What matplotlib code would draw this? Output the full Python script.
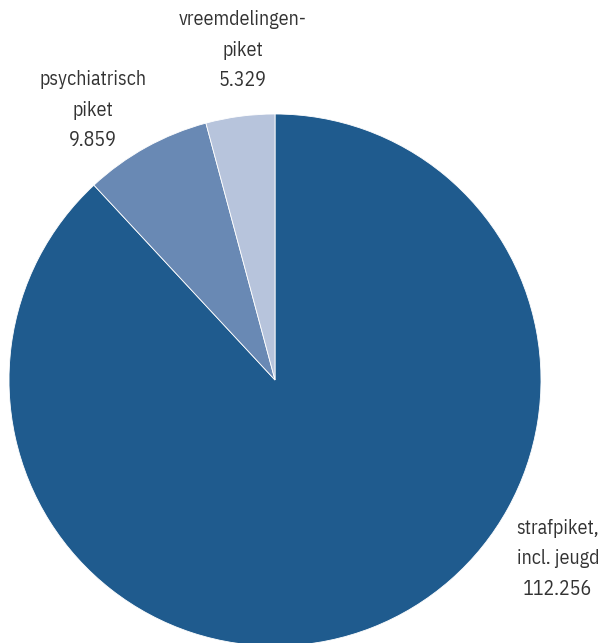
import matplotlib
matplotlib.use("Agg")
import matplotlib.pyplot as plt

# piket soorten (aantallen)
labels = ["strafpiket,\nincl. jeugd", "psychiatrisch\npiket", "vreemdelingen-\npiket"]
values = [112.256, 9.859, 5.329]
value_text = ["112.256", "9.859", "5.329"]
colors = ["#1F5B8E", "#6989B4", "#B7C4DC"]

W, H = 599, 643
fig = plt.figure(figsize=(W / 100, H / 100), dpi=100)
ax = fig.add_axes([0, 0, 1, 1])

# pie in pixel coordinates: centre (275, 380) from top-left, radius 266
cx, cy, r = 275, H - 380, 266
ax.pie(values, colors=colors, startangle=90, counterclock=False,
       center=(cx, cy), radius=r, frame=True,
       wedgeprops=dict(edgecolor="white", linewidth=0.6))
ax.set_xlim(0, W)
ax.set_ylim(0, H)
ax.set_aspect("equal")
ax.axis("off")

# centre of the middle line of each label
label_pos = [(558, 559), (93, 110), (243, 50)]
for lab, val, (x, y) in zip(labels, value_text, label_pos):
    ax.text(x, H - y, lab + "\n" + val, ha="center", va="center",
            fontsize=14.3, family=["IBM Plex Sans Condensed", "DejaVu Sans"],
            color="#333333", linespacing=1.75)

fig.savefig("out.png", dpi=100)
